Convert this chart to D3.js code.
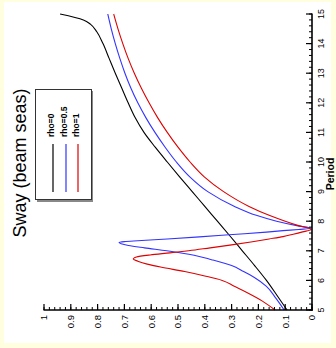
<!DOCTYPE html>
<html>
<head>
<meta charset="utf-8">
<script src="https://cdn.jsdelivr.net/npm/d3@7"></script>
<style>
  html, body { margin: 0; padding: 0; background: #ffffe0; }
  svg { display: block; font-family: "Liberation Sans", Arial, sans-serif; }
</style>
</head>
<body>
<svg id="chart" width="336" height="348"></svg>
<script>
// ---- data (period on the vertical axis, response value on the horizontal axis) ----
const seriesNames = ["rho=0", "rho=0.5", "rho=1"];
const seriesColors = ["#000000", "#3333ff", "#dd0000"];

const periodsRho0 = [5.0, 5.5, 6.0, 6.5, 7.0, 7.5, 8.0, 8.5, 9.0, 9.5, 10.0, 10.5, 11.0, 11.5, 12.0, 12.5, 13.0, 13.5, 14.0, 14.4, 14.65, 14.8, 15.0];
const valuesRho0  = [0.093, 0.131, 0.17, 0.214, 0.26, 0.306, 0.353, 0.4, 0.447, 0.494, 0.54, 0.585, 0.627, 0.66, 0.686, 0.71, 0.734, 0.757, 0.78, 0.803, 0.826, 0.853, 0.94];

const periodsRho05 = [5.0, 5.4, 5.8, 6.1, 6.3, 6.5, 6.7, 6.85, 7.0, 7.1, 7.18, 7.24, 7.28, 7.31, 7.34, 7.40, 7.47, 7.55, 7.63, 7.68, 7.72, 7.76, 7.85, 8.0, 8.2, 8.5, 9.0, 9.5, 10.0, 10.5, 11.0, 11.5, 12.0, 12.5, 13.0, 13.5, 14.0, 14.5, 15.0];
const valuesRho05  = [0.104, 0.135, 0.17, 0.215, 0.255, 0.30, 0.375, 0.44, 0.542, 0.625, 0.685, 0.712, 0.72, 0.70, 0.65, 0.54, 0.42, 0.295, 0.17, 0.108, 0.05, 0.003, 0.057, 0.132, 0.208, 0.289, 0.389, 0.456, 0.506, 0.548, 0.586, 0.62, 0.65, 0.676, 0.698, 0.717, 0.734, 0.749, 0.762];

const periodsRho1 = [5.0, 5.3, 5.6, 5.8, 6.0, 6.15, 6.3, 6.45, 6.55, 6.65, 6.72, 6.79, 6.86, 6.93, 7.0, 7.1, 7.2, 7.3, 7.4, 7.48, 7.56, 7.64, 7.72, 7.85, 8.0, 8.2, 8.5, 9.0, 9.5, 10.0, 10.5, 11.0, 11.5, 12.0, 12.5, 13.0, 13.5, 14.0, 14.5, 15.0];
const valuesRho1  = [0.138, 0.185, 0.245, 0.29, 0.335, 0.40, 0.475, 0.565, 0.615, 0.65, 0.667, 0.655, 0.604, 0.53, 0.46, 0.38, 0.30, 0.228, 0.16, 0.108, 0.07, 0.035, 0.003, 0.05, 0.10, 0.16, 0.235, 0.33, 0.402, 0.455, 0.50, 0.54, 0.576, 0.608, 0.637, 0.663, 0.686, 0.706, 0.724, 0.74];

const valueTicks = [0, 0.1, 0.2, 0.3, 0.4, 0.5, 0.6, 0.7, 0.8, 0.9, 1];
const valueTickLabels = ["0", "0.1", "0.2", "0.3", "0.4", "0.5", "0.6", "0.7", "0.8", "0.9", "1"];
const periodTicks = [5, 6, 7, 8, 9, 10, 11, 12, 13, 14, 15];
const periodTickLabels = ["5", "6", "7", "8", "9", "10", "11", "12", "13", "14", "15"];

const titleText = "Sway (beam seas)";
const periodLabel = "Period";

// ---- drawing ----
const svg = d3.select("#chart");
svg.append("rect").attr("x", 0).attr("y", 0).attr("width", 336).attr("height", 348).attr("fill", "#ffffe0");
svg.append("rect").attr("x", 4).attr("y", 2).attr("width", 327).attr("height", 341).attr("fill", "#ffffff");

const x = d3.scaleLinear().domain([0, 1]).range([312, 44]);
const y = d3.scaleLinear().domain([5, 15]).range([310, 14]);

const series = [
  { name: seriesNames[0], color: seriesColors[0], p: periodsRho0, v: valuesRho0 },
  { name: seriesNames[1], color: seriesColors[1], p: periodsRho05, v: valuesRho05 },
  { name: seriesNames[2], color: seriesColors[2], p: periodsRho1, v: valuesRho1 }
];

const line = d3.line()
  .x(d => x(d[1]))
  .y(d => y(d[0]))
  .curve(d3.curveMonotoneY);

series.forEach(s => {
  const pts = s.p.map((p, i) => [p, s.v[i]]);
  svg.append("path")
    .attr("d", line(pts))
    .attr("fill", "none")
    .attr("stroke", s.color)
    .attr("stroke-width", 1.1);
});

// bottom (value) axis
const axisY = y(5);
const gA = svg.append("g");
const minorV = d3.range(0, 1.0001, 0.02);
gA.selectAll(".mv").data(minorV).enter().append("line")
  .attr("x1", d => x(d)).attr("x2", d => x(d))
  .attr("y1", axisY).attr("y2", axisY - 3)
  .attr("stroke", "#000").attr("stroke-width", 1);
gA.selectAll(".Mv").data(valueTicks).enter().append("line")
  .attr("x1", d => x(d)).attr("x2", d => x(d))
  .attr("y1", axisY).attr("y2", axisY - 6)
  .attr("stroke", "#000").attr("stroke-width", 1.2);
gA.append("line").attr("x1", x(1) - 0.5).attr("x2", x(0) + 0.8)
  .attr("y1", axisY).attr("y2", axisY).attr("stroke", "#000").attr("stroke-width", 1.6);
gA.selectAll(".lv").data(valueTicks).enter().append("text")
  .attr("transform", d => `translate(${x(d) + 3.4},315) rotate(-90)`)
  .attr("text-anchor", "end")
  .attr("font-size", "9.5px")
  .attr("fill", "#000")
  .text((d, i) => valueTickLabels[i]);

// right (period) axis
const axisX = x(0);
const gP = svg.append("g");
const minorP = d3.range(5, 15.0001, 0.2);
gP.selectAll(".mp").data(minorP).enter().append("line")
  .attr("x1", axisX).attr("x2", axisX - 3)
  .attr("y1", d => y(d)).attr("y2", d => y(d))
  .attr("stroke", "#000").attr("stroke-width", 1);
gP.selectAll(".Mp").data(periodTicks).enter().append("line")
  .attr("x1", axisX).attr("x2", axisX - 6)
  .attr("y1", d => y(d)).attr("y2", d => y(d))
  .attr("stroke", "#000").attr("stroke-width", 1.2);
gP.append("line").attr("x1", axisX).attr("x2", axisX)
  .attr("y1", y(15) - 0.5).attr("y2", y(5) + 0.8).attr("stroke", "#000").attr("stroke-width", 1.6);
gP.selectAll(".lp").data(periodTicks).enter().append("text")
  .attr("transform", d => `translate(323.5,${y(d)}) rotate(-90)`)
  .attr("text-anchor", "middle")
  .attr("font-size", "9px")
  .attr("fill", "#000")
  .text((d, i) => periodTickLabels[i]);

svg.append("text")
  .attr("transform", "translate(333.5,174) rotate(-90)")
  .attr("text-anchor", "middle")
  .attr("font-size", "10.5px")
  .attr("font-weight", "bold")
  .text(periodLabel);

// title
svg.append("text")
  .attr("transform", "translate(26,163) rotate(-90)")
  .attr("text-anchor", "middle")
  .attr("font-size", "18px")
  .attr("fill", "#000")
  .text(titleText);

// legend
const lg = svg.append("g");
lg.append("rect").attr("x", 37).attr("y", 91).attr("width", 56).attr("height", 111).attr("fill", "#888");
lg.append("rect").attr("x", 35.5).attr("y", 89.5).attr("width", 56).attr("height", 110)
  .attr("fill", "#fff").attr("stroke", "#333").attr("stroke-width", 1);
const legX = [53, 66, 78];
series.forEach((s, i) => {
  lg.append("line").attr("x1", legX[i]).attr("x2", legX[i]).attr("y1", 144).attr("y2", 192)
    .attr("stroke", s.color).attr("stroke-width", 1.2);
  lg.append("text")
    .attr("transform", `translate(${legX[i] + 0.5},137) rotate(-90)`)
    .attr("text-anchor", "start")
    .attr("font-size", "8.5px")
    .attr("font-weight", "bold")
    .text(s.name);
});
</script>
</body>
</html>
